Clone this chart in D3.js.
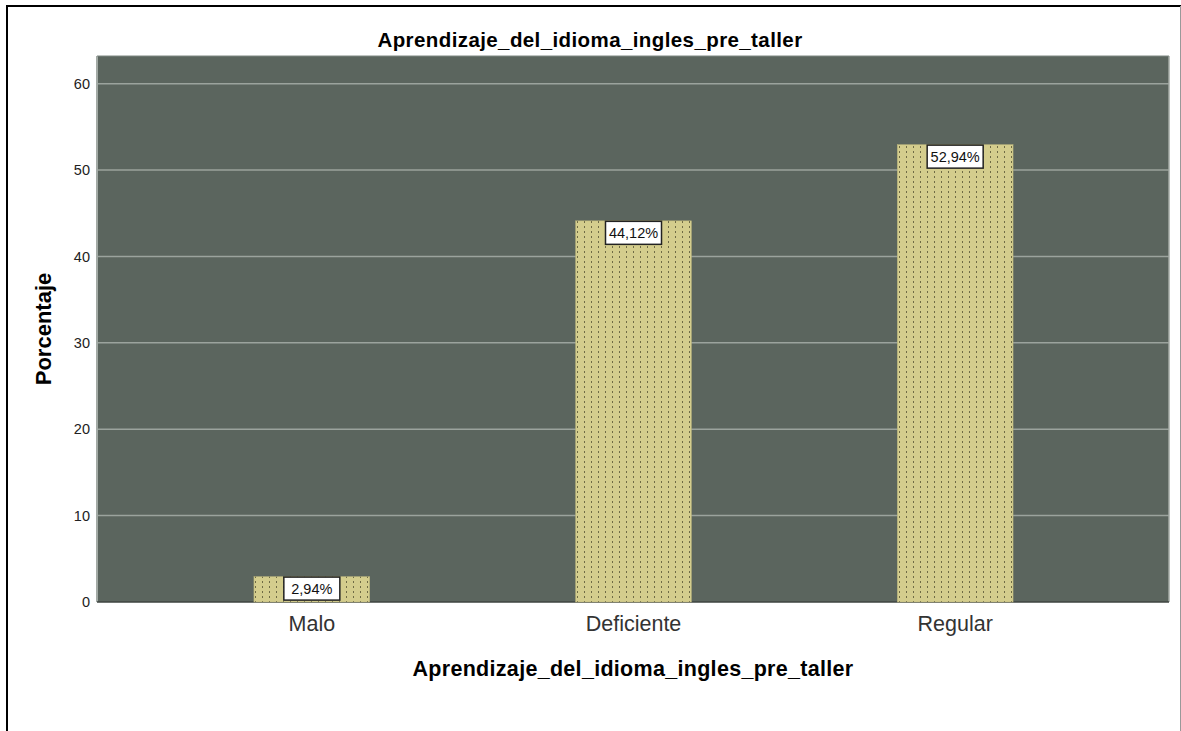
<!DOCTYPE html>
<html>
<head>
	<meta charset="utf-8">
	<title>Aprendizaje_del_idioma_ingles_pre_taller</title>
	<script type="text/javascript" src="https://d3js.org/d3.v7.min.js"></script>
	<style type="text/css">
		body { margin: 0; background: white; }
		svg { display: block; }
		text { font-family: "Liberation Sans", Arial, sans-serif; }
		.axis path, .axis line { display: none; }
		.axis text { font-size: 14.5px; fill: #222; }
		.xaxis text { font-size: 21.5px; fill: #333; }
	</style>
</head>
<body>
	<script type="text/javascript">
		var categories = ["Malo", "Deficiente", "Regular"];
		var values = [2.94, 44.12, 52.94];
		var valueLabels = ["2,94%", "44,12%", "52,94%"];
		var yTicks = [0, 10, 20, 30, 40, 50, 60];

		var chartTitle = "Aprendizaje_del_idioma_ingles_pre_taller";
		var xTitle = "Aprendizaje_del_idioma_ingles_pre_taller";
		var yTitle = "Porcentaje";

		var outer_width = 1181;
		var outer_height = 731;
		var plot = {left: 97, right: 1169, top: 56, bottom: 602};

		var svg = d3.select("body")
					.append("svg")
					.attr("width", outer_width)
					.attr("height", outer_height);

		// frame
		svg.append("line").attr("x1", 7).attr("x2", 7).attr("y1", 5).attr("y2", 731)
			.attr("stroke", "black").attr("stroke-width", 2);
		svg.append("line").attr("x1", 6).attr("x2", 1181).attr("y1", 6).attr("y2", 6)
			.attr("stroke", "black").attr("stroke-width", 2);
		svg.append("line").attr("x1", 1180.5).attr("x2", 1180.5).attr("y1", 6).attr("y2", 731)
			.attr("stroke", "#999").attr("stroke-width", 1);

		var defs = svg.append("defs");
		var pat = defs.append("pattern")
			.attr("id", "dots")
			.attr("patternUnits", "userSpaceOnUse")
			.attr("width", 7)
			.attr("height", 5);
		pat.append("rect").attr("width", 7).attr("height", 5).attr("fill", "#d4cd8d");
		pat.append("rect").attr("x", 3).attr("y", 1).attr("width", 1).attr("height", 2).attr("fill", "#6f6b45");

		var yScale = d3.scaleLinear()
						.domain([0, 63.2])
						.range([plot.bottom, plot.top]);

		var xScale = d3.scaleBand()
						.domain(categories)
						.range([151, 1116])
						.paddingInner(0.64)
						.paddingOuter(0.32);

		// plot background
		svg.append("rect")
			.attr("x", plot.left)
			.attr("y", plot.top)
			.attr("width", plot.right - plot.left)
			.attr("height", plot.bottom - plot.top)
			.attr("fill", "#5b655e");

		// gridlines
		svg.selectAll(".grid")
			.data(yTicks.filter(function(d){ return d > 0; }))
			.enter()
			.append("line")
			.attr("class", "grid")
			.attr("x1", plot.left)
			.attr("x2", plot.right)
			.attr("y1", function(d){ return yScale(d); })
			.attr("y2", function(d){ return yScale(d); })
			.attr("stroke", "#9ba39d")
			.attr("stroke-width", 1.5);

		// plot edges
		svg.append("line").attr("x1", plot.left).attr("x2", plot.left)
			.attr("y1", plot.top).attr("y2", plot.bottom)
			.attr("stroke", "#a3aaa5").attr("stroke-width", 2);
		svg.append("line").attr("x1", plot.right).attr("x2", plot.right)
			.attr("y1", plot.top).attr("y2", plot.bottom)
			.attr("stroke", "#a3aaa5").attr("stroke-width", 1.5);
		svg.append("line").attr("x1", plot.left).attr("x2", plot.right)
			.attr("y1", plot.top).attr("y2", plot.top)
			.attr("stroke", "#7f8882").attr("stroke-width", 1);
		svg.append("line").attr("x1", plot.left).attr("x2", plot.right)
			.attr("y1", plot.bottom).attr("y2", plot.bottom)
			.attr("stroke", "#3e4540").attr("stroke-width", 1.5);

		// bars
		svg.selectAll(".bar")
			.data(values)
			.enter()
			.append("rect")
			.attr("class", "bar")
			.attr("x", function(d, i){ return xScale(categories[i]); })
			.attr("y", function(d){ return yScale(d); })
			.attr("width", xScale.bandwidth())
			.attr("height", function(d){ return plot.bottom - yScale(d); })
			.attr("fill", "url(#dots)")
			.attr("stroke", "#b8b17a")
			.attr("stroke-width", 0.5);

		// value labels
		var lab = svg.selectAll(".vlab")
			.data(values)
			.enter()
			.append("g")
			.attr("class", "vlab")
			.attr("transform", function(d, i){
				return "translate(" + (xScale(categories[i]) + xScale.bandwidth() / 2) + "," + yScale(d) + ")";
			});
		lab.append("rect")
			.attr("x", -28)
			.attr("y", 0.5)
			.attr("width", 56)
			.attr("height", 23)
			.attr("fill", "white")
			.attr("stroke", "#222")
			.attr("stroke-width", 1.5);
		lab.append("text")
			.attr("x", 0)
			.attr("y", 17.5)
			.attr("text-anchor", "middle")
			.style("font-size", "14.5px")
			.style("fill", "#111")
			.text(function(d, i){ return valueLabels[i]; });

		// axes
		var yaxis = d3.axisLeft(yScale).tickValues(yTicks).tickSize(0).tickPadding(7);
		svg.append("g")
			.attr("class", "axis")
			.attr("transform", "translate(" + plot.left + ",0)")
			.call(yaxis);

		var xaxis = d3.axisBottom(xScale).tickSize(0).tickPadding(14);
		svg.append("g")
			.attr("class", "axis xaxis")
			.attr("transform", "translate(0," + plot.bottom + ")")
			.call(xaxis);

		// titles
		svg.append("text")
			.attr("x", 590)
			.attr("y", 47)
			.attr("text-anchor", "middle")
			.style("font-size", "20.5px")
			.style("font-weight", "bold")
			.style("letter-spacing", "0.4px")
			.text(chartTitle);

		svg.append("text")
			.attr("x", 633)
			.attr("y", 676)
			.attr("text-anchor", "middle")
			.style("font-size", "21.5px")
			.style("font-weight", "bold")
			.style("letter-spacing", "0.3px")
			.text(xTitle);

		svg.append("text")
			.attr("transform", "translate(51," + 329 + ") rotate(-90)")
			.attr("text-anchor", "middle")
			.style("font-size", "22px")
			.style("font-weight", "bold")
			.text(yTitle);
	</script>
</body>
</html>
